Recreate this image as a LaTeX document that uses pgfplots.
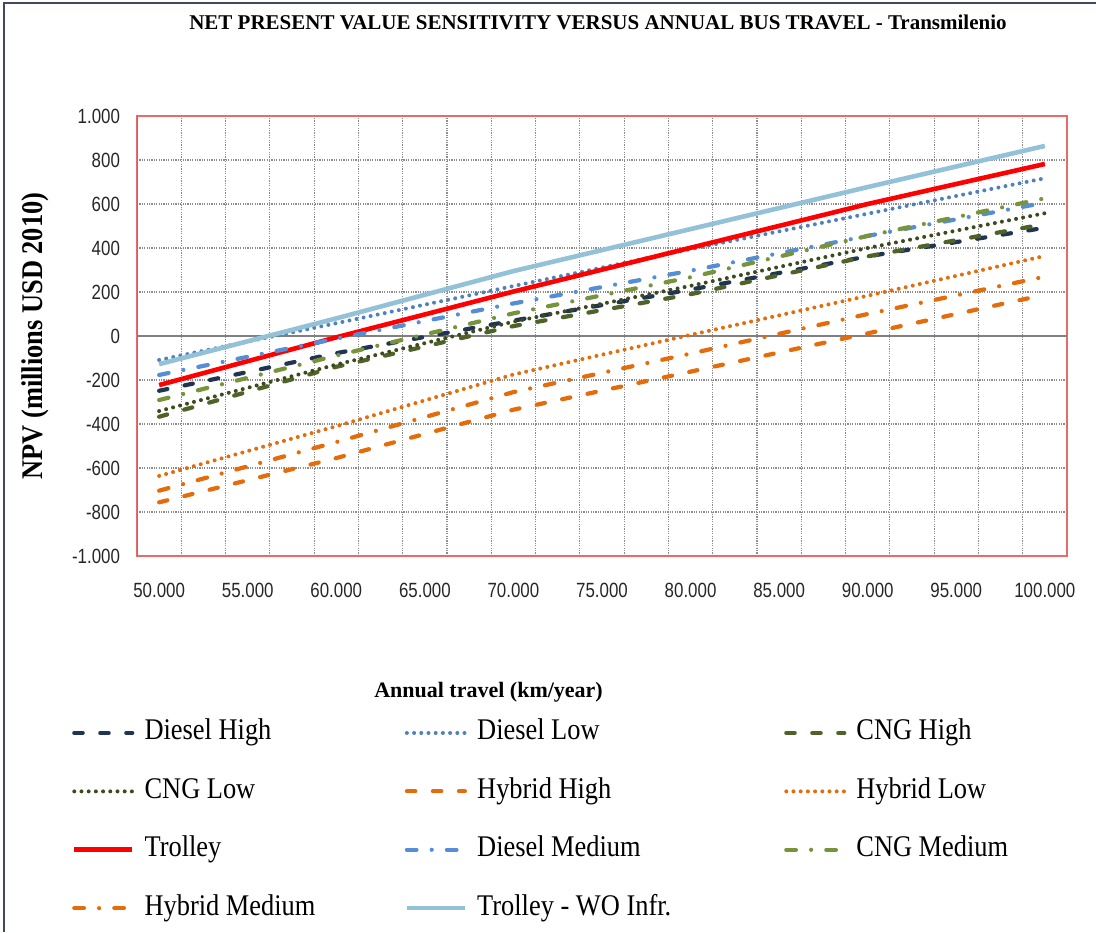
\documentclass[border=0pt]{standalone}
\usepackage{fontspec}
\setmainfont{Liberation Serif}
\newfontfamily\legfont{Liberation Serif}[FakeStretch=0.88]
\newfontfamily\tickfont{Liberation Sans}[FakeStretch=0.82]
\usepackage{pgfplots}
\usepackage{pgfplotstable}
\pgfplotsset{compat=1.18}

\definecolor{dieselhigh}{HTML}{1F3552}
\definecolor{diesellow}{HTML}{4F81BD}
\definecolor{dieselmed}{HTML}{558ED5}
\definecolor{cnghigh}{HTML}{4F6228}
\definecolor{cnglow}{HTML}{3D4A1E}
\definecolor{cngmed}{HTML}{77933C}
\definecolor{hybrid}{HTML}{E46C0A}
\definecolor{trolley}{HTML}{FF0000}
\definecolor{trolleywo}{HTML}{93C2D8}
\definecolor{axisred}{HTML}{E96A6A}
\definecolor{framecol}{HTML}{3F4A5E}

% NPV in millions USD 2010
\pgfplotstableread{
x      DieselHigh DieselLow CNGHigh CNGLow HybHigh HybLow Trolley DieselMed CNGMed HybMed TrolleyWO
50000  -249       -109      -367    -341   -756    -636   -223    -177      -291   -703   -128
60000  -78        58        -140    -130   -555    -410   -6      -12       -89    -482   80
70000  70         227       45      65     -335    -175   202     148       103    -255   295
80000  211        395       190     228    -162    5      401     297       267    -80    486
90000  362        556       362     400    12      183    600     455       455    100    677
100000 492        717       509     558    188     364    782     606       626    270    864
}\npv

\pgfplotsset{
  dashedline/.style={line width=2.1pt, line cap=round, dash pattern=on 4.2pt off 8.8pt},
  dottedline/.style={line width=2pt, line cap=round, dash pattern=on 0pt off 3.6pt},
  dashdotline/.style={line width=2.1pt, line cap=round, dash pattern=on 4.8pt off 7.6pt on 0pt off 7.6pt},
}

\begin{document}
\begin{tikzpicture}
\useasboundingbox (0,0) rectangle (548pt,466pt);
\draw[framecol, line width=1pt] (2pt,0) -- (2pt,464.5pt) -- (548pt,464.5pt);
\node[font=\bfseries\fontsize{10.5}{12}\selectfont] at (299pt,455pt)
  {NET PRESENT VALUE SENSITIVITY VERSUS ANNUAL BUS TRAVEL - Transmilenio};
\begin{axis}[
  at={(68.5pt,188pt)}, anchor=south west,
  scale only axis, width=465pt, height=220pt,
  xmin=48750, xmax=101250, ymin=-1000, ymax=1000,
  scaled x ticks=false, scaled y ticks=false,
  xtick={50000,55000,...,100000},
  xticklabels={50.000,55.000,60.000,65.000,70.000,75.000,80.000,85.000,90.000,95.000,100.000},
  minor xtick={48750,51250,...,101250},
  ytick={-1000,-800,...,1000},
  yticklabels={-1.000,-800,-600,-400,-200,0,200,400,600,800,1.000},
  ymajorgrids, xminorgrids,
  major tick length=0pt, minor tick length=0pt,
  grid style={black!45, line width=0.55pt, dash pattern=on 0.6pt off 0.6pt},
  axis line style={axisred, line width=0.8pt},
  tick label style={font=\tickfont\fontsize{10.3}{12}\selectfont, text=black!85},
  xticklabel style={yshift=-10pt},
  yticklabel style={xshift=-5pt},
  extra y ticks={0}, extra y tick labels={},
  extra y tick style={grid=major, major grid style={solid, black!50, line width=0.8pt}},
  xlabel={Annual travel (km/year)},
  xlabel style={at={(axis description cs:0.378,-0.309)}, anchor=center,
    font=\bfseries\fontsize{11}{12}\selectfont},
  ylabel={NPV (millions USD 2010)},
  ylabel style={at={(axis description cs:-0.1097,0.5)}, anchor=center,
    font=\legfont\bfseries\fontsize{15}{17}\selectfont},
  legend columns=3,
  legend cell align=left,
  legend image code/.code={\draw[#1] (0pt,0pt) -- (29pt,0pt);},
  legend style={at={(axis description cs:-0.0699,-0.3727)}, anchor=north west,
    draw=none, fill=none, inner sep=0pt, outer sep=0pt,
    font=\legfont\fontsize{15}{18}\selectfont,
    column sep=5pt, row sep=16.2pt,
    nodes={inner sep=0pt, text height=10pt, text depth=3pt}},
]
\addplot[dieselhigh, dashedline] table[y=DieselHigh] {\npv};
\addlegendentry{\makebox[125pt][l]{Diesel High}}
\addplot[diesellow, dottedline] table[y=DieselLow] {\npv};
\addlegendentry{\makebox[148.5pt][l]{Diesel Low}}
\addplot[cnghigh, dashedline] table[y=CNGHigh] {\npv};
\addlegendentry{CNG High}
\addplot[cnglow, dottedline] table[y=CNGLow] {\npv};
\addlegendentry{\makebox[125pt][l]{CNG Low}}
\addplot[hybrid, dashedline] table[y=HybHigh] {\npv};
\addlegendentry{\makebox[148.5pt][l]{Hybrid High}}
\addplot[hybrid, dottedline] table[y=HybLow] {\npv};
\addlegendentry{Hybrid Low}
\addplot[trolley, line width=2.3pt] table[y=Trolley] {\npv};
\addlegendentry{\makebox[125pt][l]{Trolley}}
\addplot[dieselmed, dashdotline] table[y=DieselMed] {\npv};
\addlegendentry{\makebox[148.5pt][l]{Diesel Medium}}
\addplot[cngmed, dashdotline] table[y=CNGMed] {\npv};
\addlegendentry{CNG Medium}
\addplot[hybrid, dashdotline] table[y=HybMed] {\npv};
\addlegendentry{\makebox[125pt][l]{Hybrid Medium}}
\addplot[trolleywo, line width=2.3pt] table[y=TrolleyWO] {\npv};
\addlegendentry{\makebox[148.5pt][l]{Trolley - WO Infr.}}
\draw[black!50, line width=0.8pt] (rel axis cs:0,0) -- (rel axis cs:0,1);
\end{axis}
\end{tikzpicture}
\end{document}
